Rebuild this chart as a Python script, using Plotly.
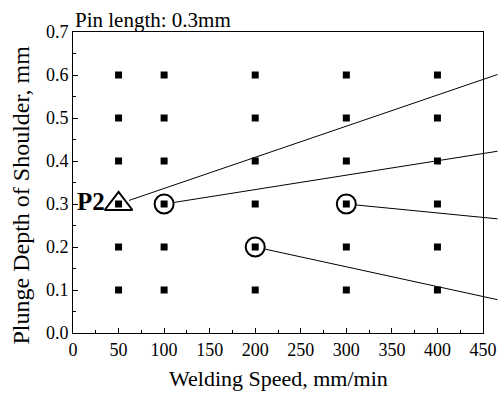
import plotly.graph_objects as go

speeds = [50, 100, 200, 300, 400]
depths = [0.1, 0.2, 0.3, 0.4, 0.5, 0.6]
tri_x = [50]
tri_y = [0.3]
circ_x = [100, 300, 200]
circ_y = [0.3, 0.3, 0.2]
label_text = "P2"
title_text = "Pin length: 0.3mm"
x_title = "Welding Speed, mm/min"
y_title = "Plunge Depth of Shoulder, mm"

FONT = "Liberation Serif, Times New Roman, serif"

gx = [s for s in speeds for d in depths]
gy = [d for s in speeds for d in depths]

fig = go.Figure()
fig.add_trace(go.Scatter(x=gx, y=gy, mode="markers",
                         marker=dict(symbol="square", size=7, color="black"),
                         showlegend=False, cliponaxis=False))
fig.add_trace(go.Scatter(x=circ_x, y=circ_y, mode="markers",
                         marker=dict(symbol="circle-open", size=19, color="black",
                                     line=dict(width=2, color="black")),
                         showlegend=False, cliponaxis=False))
fig.add_trace(go.Scatter(x=tri_x, y=tri_y, mode="markers",
                         marker=dict(symbol="triangle-up-open", size=24, color="black",
                                     line=dict(width=2, color="black")),
                         showlegend=False, cliponaxis=False))

# leader lines going off to the right edge
leaders = [
    (tri_x[0], tri_y[0], 385, -130, 11),
    (circ_x[0], circ_y[0], 340, -53, 10),
    (circ_x[1], circ_y[1], 157, 15, 10),
    (circ_x[2], circ_y[2], 248, 53, 10),
]
for (lx, ly, ax, ay, so) in leaders:
    fig.add_annotation(x=lx, y=ly, ax=ax, ay=ay, axref="pixel", ayref="pixel",
                       text="", showarrow=True, arrowhead=0, arrowwidth=1,
                       arrowcolor="black", standoff=so)

fig.add_annotation(x=tri_x[0], y=tri_y[0], text="<b>%s</b>" % label_text,
                   showarrow=False, xanchor="right", yanchor="middle",
                   xshift=-12, yshift=3, font=dict(family=FONT, size=25, color="black"))

fig.add_annotation(x=0, y=1, xref="paper", yref="paper", text=title_text,
                   showarrow=False, xanchor="left", yanchor="bottom", yshift=-2,
                   font=dict(family=FONT, size=21, color="black"))

# axis titles
fig.add_annotation(x=0.5, y=0, xref="paper", yref="paper", text=x_title,
                   showarrow=False, xanchor="center", yanchor="top", yshift=-31,
                   font=dict(family=FONT, size=22, color="black"))
fig.add_annotation(x=0, y=0.5, xref="paper", yref="paper", text=y_title,
                   showarrow=False, xanchor="center", yanchor="middle", textangle=-90,
                   xshift=-53, yshift=-13,
                   font=dict(family=FONT, size=24, color="black"))

axis_common = dict(showline=True, linecolor="black", linewidth=1, mirror=True,
                   ticks="inside", ticklen=5, tickcolor="black", showgrid=False,
                   zeroline=False, automargin=False,
                   tickfont=dict(family=FONT, size=18, color="black"))

fig.update_xaxes(range=[0, 450], tickmode="linear", tick0=0, dtick=50,
                 minor=dict(ticks="inside", ticklen=3, dtick=25, tick0=0, tickcolor="black"),
                 **axis_common)
fig.update_yaxes(range=[0, 0.7], tickmode="linear", tick0=0, dtick=0.1, tickformat=".1f",
                 minor=dict(ticks="inside", ticklen=3, dtick=0.05, tick0=0, tickcolor="black"),
                 **axis_common)

fig.update_layout(width=499, height=395, margin=dict(l=73, r=16, t=32, b=62),
                  plot_bgcolor="white", paper_bgcolor="white",
                  font=dict(family=FONT, color="black"))

fig.write_html("out.html", config={"displayModeBar": False},
               post_script=("document.body.style.margin='0';"
                            "document.body.style.overflow='hidden';"
                            "document.documentElement.style.overflow='hidden';"))
